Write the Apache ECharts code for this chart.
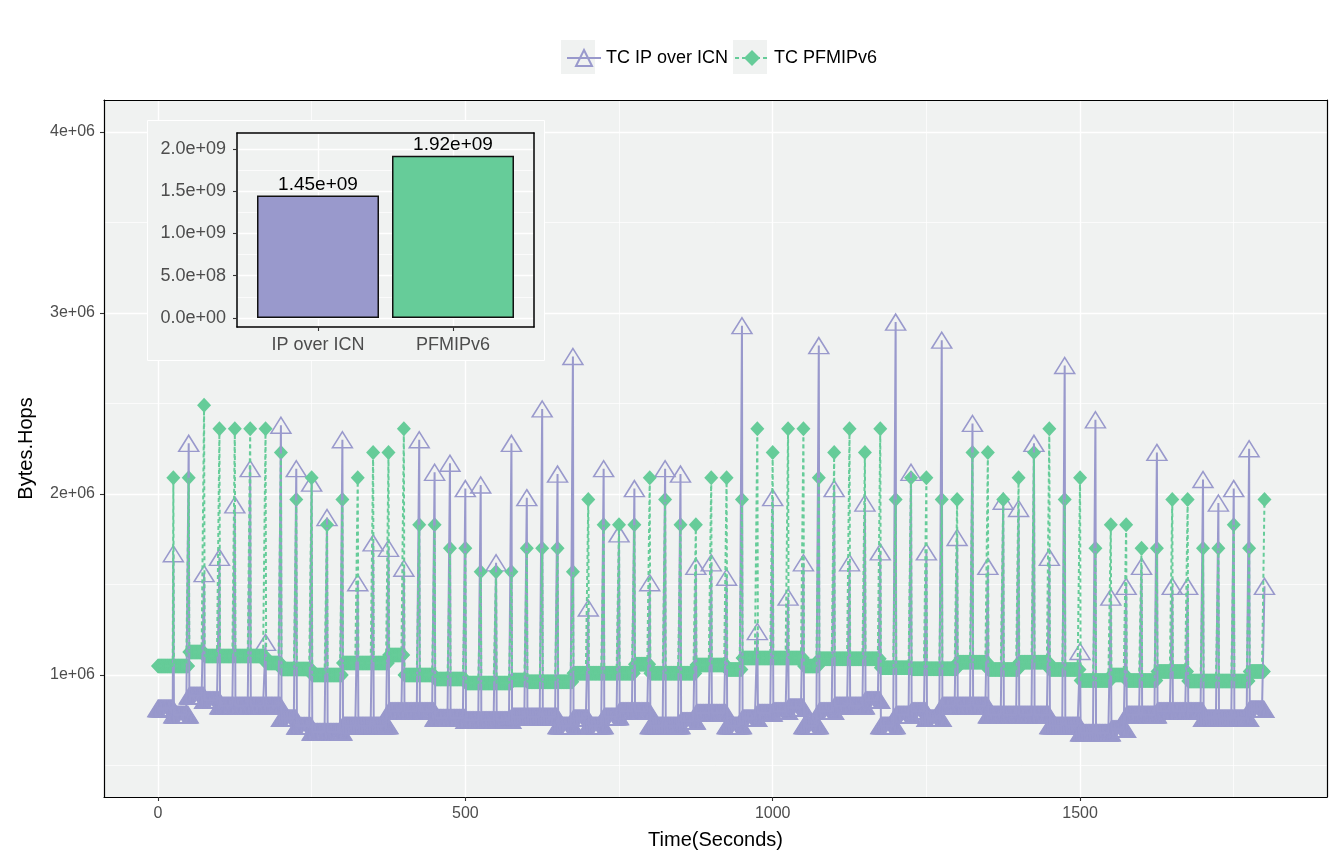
<!DOCTYPE html>
<html>
<head>
<meta charset="utf-8">
<script src="https://cdn.jsdelivr.net/npm/echarts@6/dist/echarts.min.js"></script>
<style>
html, body { margin: 0; padding: 0; background: #fff; }
#echarts_id { width: 1332px; height: 863px; }
</style>
</head>
<body>
<div id="echarts_id"></div>
<script>
// 数据 (values in millions of Bytes.Hops)
// spikes every 25 s, t = 25, 50, ..., 1800
var ipPeak = [
    1.67, 2.28, 1.56, 1.65, 1.94, 2.14, 1.18, 2.38, 2.14, 2.06,
    1.87, 2.30, 1.51, 1.73, 1.70, 1.59, 2.30, 2.12, 2.17, 2.03,
    2.05, 1.62, 2.28, 1.98, 2.47, 2.11, 2.76, 1.37, 2.14, 1.78,
    2.03, 1.51, 2.14, 2.11, 1.60, 1.62, 1.54, 2.93, 1.24, 1.98,
    1.43, 1.62, 2.82, 2.03, 1.62, 1.95, 1.68, 2.95, 2.12, 1.68,
    2.85, 1.76, 2.39, 1.60, 1.96, 1.92, 2.28, 1.65, 2.71, 1.13,
    2.41, 1.43, 1.49, 1.60, 2.23, 1.49, 1.49, 2.08, 1.95, 2.03,
    2.25, 1.49
];
var pfPeak = [
    2.09, 2.09, 2.49, 2.36, 2.36, 2.36, 2.36, 2.23, 1.97, 2.09,
    1.83, 1.97, 2.09, 2.23, 2.23, 2.36, 1.83, 1.83, 1.70, 1.70,
    1.57, 1.57, 1.57, 1.70, 1.70, 1.70, 1.57, 1.97, 1.83, 1.83,
    1.83, 2.09, 1.97, 1.83, 1.83, 2.09, 2.09, 1.97, 2.36, 2.23,
    2.36, 2.36, 2.09, 2.23, 2.36, 2.23, 2.36, 1.97, 2.09, 2.09,
    1.97, 1.97, 2.23, 2.23, 1.97, 2.09, 2.23, 2.36, 1.97, 2.09,
    1.70, 1.83, 1.83, 1.70, 1.70, 1.97, 1.97, 1.70, 1.70, 1.83,
    1.70, 1.97
];
// background level between spikes, one per 25 s interval
var ipBase = [
    0.815, 0.78, 0.885, 0.86, 0.83, 0.83, 0.83, 0.83, 0.76, 0.718,
    0.685, 0.685, 0.72, 0.72, 0.72, 0.80, 0.80, 0.80, 0.762, 0.762,
    0.75, 0.75, 0.75, 0.77, 0.77, 0.77, 0.72, 0.76, 0.72, 0.77,
    0.80, 0.80, 0.72, 0.72, 0.745, 0.79, 0.79, 0.72, 0.76, 0.79,
    0.80, 0.82, 0.72, 0.80, 0.83, 0.83, 0.86, 0.72, 0.78, 0.80,
    0.76, 0.83, 0.83, 0.83, 0.78, 0.78, 0.78, 0.78, 0.72, 0.72,
    0.68, 0.68, 0.70, 0.78, 0.78, 0.80, 0.80, 0.80, 0.76, 0.76,
    0.76, 0.81
];
var pfBase = [
    1.05, 1.05, 1.127, 1.105, 1.105, 1.105, 1.105, 1.066, 1.033, 1.033,
    1.0, 1.0, 1.066, 1.066, 1.066, 1.11, 1.0, 1.0, 0.978, 0.978,
    0.956, 0.956, 0.956, 0.972, 0.963, 0.963, 0.963, 1.01, 1.01, 1.01,
    1.01, 1.06, 1.01, 1.01, 1.01, 1.055, 1.055, 1.03, 1.094, 1.094,
    1.094, 1.094, 1.05, 1.09, 1.09, 1.09, 1.09, 1.04, 1.04, 1.035,
    1.035, 1.035, 1.07, 1.07, 1.03, 1.03, 1.07, 1.07, 1.03, 1.03,
    0.97, 0.97, 1.0, 0.97, 0.97, 1.02, 1.02, 0.967, 0.967, 0.967,
    0.967, 1.02
];
// inset totals
var barNames = ['IP over ICN', 'PFMIPv6'];
var barTotals = [1.45e9, 1.92e9];

// tick labels
var xTicks = [0, 500, 1000, 1500];
var yTicks = [1e6, 2e6, 3e6, 4e6];
var insetYTicks = [0, 5e8, 1e9, 1.5e9, 2e9];

var C_IP = '#9999CC';
var C_PF = '#66CC99';
var PANEL = '#F0F2F1';
var FONT = '"Liberation Sans", Arial, sans-serif';

// 1 s samples: baseline level, spike on every 25th second
function buildSeries(base, peak) {
    var out = [];
    for (var t = 0; t <= 1800; t++) {
        if (t > 0 && t % 25 === 0) out.push([t, peak[t / 25 - 1] * 1e6]);
        else out.push([t, base[Math.floor(t / 25)] * 1e6]);
    }
    return out;
}
var ipData = buildSeries(ipBase, ipPeak);
var pfData = buildSeries(pfBase, pfPeak);

function sci(v, d) {
    return v.toExponential(d).replace(/e([+-])(\d)$/, 'e$10$2');
}
function isMult(v, step) {
    var r = Math.abs(v / step - Math.round(v / step));
    return r < 1e-6;
}

var myChart = echarts.init(document.getElementById('echarts_id'));

option = {
    animation: false,
    textStyle: { fontFamily: FONT },
    legend: {
        data: ['TC IP over ICN', 'TC PFMIPv6'],
        left: 561, top: 44,
        itemWidth: 34, itemHeight: 20, itemGap: 6,
        textStyle: { fontSize: 18, color: '#000', fontFamily: FONT },
        selectedMode: false
    },
    grid: [
        { left: 104, top: 100, right: 5, bottom: 66, show: true, backgroundColor: PANEL, borderWidth: 0, outerBoundsMode: 'none' },
        { left: 237, top: 133, width: 297, height: 194, show: true, backgroundColor: PANEL, borderWidth: 0, z: 11, outerBoundsMode: 'none' }
    ],
    graphic: [
        {
            type: 'rect', z: 10,
            shape: { x: 147.5, y: 120.5, width: 397, height: 240 },
            style: { fill: PANEL, stroke: '#fff', lineWidth: 1 }
        },
        // legend key backgrounds
        { type: 'rect', z: 0, shape: { x: 561, y: 40, width: 34, height: 34 }, style: { fill: PANEL } },
        { type: 'rect', z: 0, shape: { x: 733, y: 40, width: 34, height: 34 }, style: { fill: PANEL } }
    ],
    xAxis: [
        {
            gridIndex: 0, type: 'value', position: 'bottom',
            min: -87.8, max: 1901.7, minInterval: 500, maxInterval: 500,
            name: 'Time(Seconds)', nameLocation: 'middle', nameGap: 33,
            nameTextStyle: { fontSize: 20, color: '#000', fontFamily: FONT },
            axisLine: { onZero: false, lineStyle: { color: '#000', width: 1.2 } },
            axisTick: { length: 4, customValues: xTicks, lineStyle: { color: '#333', width: 1.1 } },
            axisLabel: {
                margin: 9, fontSize: 16, color: '#4D4D4D', fontFamily: FONT, customValues: xTicks,
                formatter: function (v) { return isMult(v, 500) ? String(Math.round(v)) : ''; }
            },
            splitLine: { show: true, lineStyle: { color: '#fff', width: 1.4 } }
        },
        {
            gridIndex: 0, type: 'value', position: 'top',
            min: -87.8, max: 1901.7, minInterval: 250, maxInterval: 250,
            axisLine: { onZero: false, lineStyle: { color: '#000', width: 1.2 } },
            axisTick: { show: false }, axisLabel: { show: false },
            splitLine: { show: true, lineStyle: { color: '#fff', width: 0.7 } }
        },
        {
            gridIndex: 1, type: 'value', position: 'bottom', z: 12,
            min: 0.4, max: 2.6, minInterval: 1, maxInterval: 1,
            axisLine: { onZero: false, lineStyle: { color: '#000', width: 1.5 } },
            axisTick: { length: 4, customValues: [1, 2], lineStyle: { color: '#333', width: 1.1 } },
            axisLabel: {
                margin: 9, fontSize: 18, color: '#4D4D4D', fontFamily: FONT, customValues: [1, 2],
                formatter: function (v) { return isMult(v, 1) ? (barNames[Math.round(v) - 1] || '') : ''; }
            },
            splitLine: { show: true, lineStyle: { color: '#fff', width: 1.4 } }
        },
        {
            gridIndex: 1, type: 'value', position: 'top', z: 12,
            min: 0.4, max: 2.6,
            axisLine: { onZero: false, lineStyle: { color: '#000', width: 1.5 } },
            axisTick: { show: false }, axisLabel: { show: false }, splitLine: { show: false }
        }
    ],
    yAxis: [
        {
            gridIndex: 0, type: 'value', position: 'left',
            min: 326000, max: 4177000, minInterval: 1e6, maxInterval: 1e6,
            name: 'Bytes.Hops', nameLocation: 'middle', nameGap: 68, nameRotate: 90,
            nameTextStyle: { fontSize: 20, color: '#000', fontFamily: FONT },
            axisLine: { onZero: false, lineStyle: { color: '#000', width: 1.2 } },
            axisTick: { length: 4, customValues: yTicks, lineStyle: { color: '#333', width: 1.1 } },
            axisLabel: {
                margin: 9, fontSize: 16, color: '#4D4D4D', fontFamily: FONT, customValues: yTicks,
                formatter: function (v) { return isMult(v, 1e6) ? sci(v, 0) : ''; }
            },
            splitLine: { show: true, lineStyle: { color: '#fff', width: 1.4 } }
        },
        {
            gridIndex: 0, type: 'value', position: 'right',
            min: 326000, max: 4177000, minInterval: 5e5, maxInterval: 5e5,
            axisLine: { onZero: false, lineStyle: { color: '#000', width: 1.2 } },
            axisTick: { show: false }, axisLabel: { show: false },
            splitLine: { show: true, lineStyle: { color: '#fff', width: 0.7 } }
        },
        {
            gridIndex: 1, type: 'value', position: 'left', z: 12,
            min: -1.065e8, max: 2.189e9, minInterval: 5e8, maxInterval: 5e8,
            axisLine: { onZero: false, lineStyle: { color: '#000', width: 1.5 } },
            axisTick: { length: 4, customValues: insetYTicks, lineStyle: { color: '#333', width: 1.1 } },
            axisLabel: {
                margin: 11, fontSize: 18, color: '#4D4D4D', fontFamily: FONT, customValues: insetYTicks,
                formatter: function (v) { return isMult(v, 5e8) ? sci(v, 1) : ''; }
            },
            splitLine: { show: true, lineStyle: { color: '#fff', width: 1.4 } }
        },
        {
            gridIndex: 1, type: 'value', position: 'right', z: 12,
            min: -1.065e8, max: 2.189e9, minInterval: 2.5e8, maxInterval: 2.5e8,
            axisLine: { onZero: false, lineStyle: { color: '#000', width: 1.5 } },
            axisTick: { show: false }, axisLabel: { show: false },
            splitLine: { show: true, lineStyle: { color: '#fff', width: 0.7 } }
        }
    ],
    series: [
        {
            name: 'TC IP over ICN', type: 'line', xAxisIndex: 0, yAxisIndex: 0,
            data: ipData, showSymbol: false, symbol: 'triangle', symbolSize: [20, 16],
            silent: true, color: C_IP,
            lineStyle: { color: C_IP, width: 2 },
            itemStyle: { color: 'rgba(0,0,0,0)', borderColor: C_IP, borderWidth: 1.5 }
        },
        {
            name: 'TC PFMIPv6', type: 'line', xAxisIndex: 0, yAxisIndex: 0,
            data: pfData, showSymbol: false, symbol: 'diamond', symbolSize: [14, 15],
            silent: true, color: C_PF,
            lineStyle: { color: C_PF, width: 2, type: [4, 3] },
            itemStyle: { color: C_PF }
        },
        {
            name: 'TC IP over ICN', type: 'scatter', xAxisIndex: 0, yAxisIndex: 0,
            data: ipData, symbol: 'triangle', symbolSize: [20, 16], silent: true,
            itemStyle: { color: 'rgba(0,0,0,0)', borderColor: C_IP, borderWidth: 1.5, opacity: 1 }
        },
        {
            name: 'TC PFMIPv6', type: 'scatter', xAxisIndex: 0, yAxisIndex: 0,
            data: pfData, symbol: 'diamond', symbolSize: [14, 15], silent: true,
            itemStyle: { color: C_PF, opacity: 1 }
        },
        {
            name: 'totals', type: 'bar', xAxisIndex: 2, yAxisIndex: 2, z: 13,
            barWidth: 122, silent: true,
            data: [
                { value: [1, barTotals[0]], itemStyle: { color: C_IP } },
                { value: [2, barTotals[1]], itemStyle: { color: C_PF } }
            ],
            itemStyle: { borderColor: '#111', borderWidth: 1.5 },
            label: {
                show: true, position: 'top', distance: 1,
                fontSize: 19, color: '#000', fontFamily: FONT,
                formatter: function (p) { return sci(p.value[1], 2); }
            }
        }
    ]
};

myChart.setOption(option);
</script>
</body>
</html>
